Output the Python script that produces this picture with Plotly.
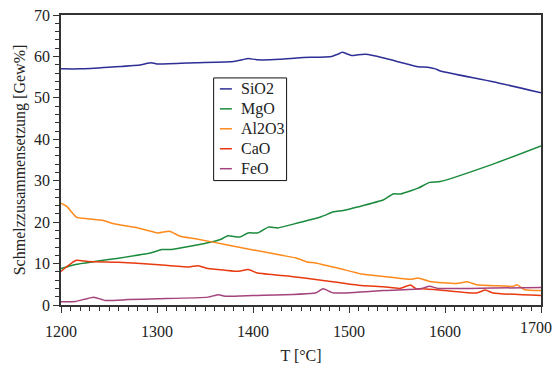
import plotly.graph_objects as go

# Melt composition vs temperature (wt%)
T_sio2 = [1200, 1220, 1250, 1282, 1289, 1294, 1300, 1340, 1380, 1389, 1395, 1404, 1428, 1449,
          1482, 1488, 1493, 1498, 1503, 1510, 1517, 1525, 1550, 1572, 1582, 1590, 1595, 1650, 1700]
sio2 = [57.0, 57.0, 57.4, 57.95, 58.3, 58.5, 58.2, 58.5, 58.8, 59.2, 59.5, 59.2, 59.3, 59.7,
        60.0, 60.5, 61.0, 60.6, 60.2, 60.4, 60.5, 60.2, 58.8, 57.5, 57.4, 57.0, 56.5, 53.9, 51.2]

T_mgo = [1200, 1215, 1235, 1260, 1294, 1305, 1315, 1330, 1360, 1366, 1374, 1386, 1395, 1405,
         1416, 1426, 1440, 1471, 1484, 1494, 1510, 1536, 1546, 1554, 1572, 1584, 1595, 1650, 1700]
mgo = [8.8, 9.8, 10.5, 11.3, 12.6, 13.4, 13.4, 14.0, 15.4, 15.8, 16.7, 16.4, 17.4, 17.4,
       18.8, 18.6, 19.4, 21.3, 22.5, 22.8, 23.7, 25.4, 26.8, 26.8, 28.2, 29.6, 29.8, 34.0, 38.4]

T_al2o3 = [1200, 1206, 1216, 1228, 1244, 1255, 1280, 1301, 1313, 1324, 1340, 1371, 1400, 1430,
           1444, 1458, 1464, 1490, 1513, 1536, 1564, 1572, 1584, 1612, 1623, 1633, 1660, 1671,
           1675, 1683, 1700]
al2o3 = [24.6, 23.8, 21.2, 20.8, 20.4, 19.6, 18.6, 17.4, 17.8, 16.6, 16.0, 14.6, 13.3, 12.0,
         11.4, 10.3, 10.2, 8.8, 7.5, 6.9, 6.2, 6.5, 5.7, 5.2, 5.6, 4.9, 4.6, 4.5,
         4.9, 3.7, 3.5]

T_cao = [1200, 1208, 1216, 1228, 1260, 1298, 1333, 1343, 1353, 1371, 1385, 1395, 1405, 1440,
         1471, 1513, 1536, 1553, 1564, 1570, 1577, 1600, 1633, 1642, 1650, 1700]
cao = [8.1, 9.6, 10.8, 10.5, 10.3, 9.8, 9.2, 9.5, 8.8, 8.4, 8.15, 8.55, 7.7, 6.9,
       6.0, 4.7, 4.4, 4.0, 4.8, 3.9, 3.9, 3.5, 2.9, 3.6, 2.9, 2.3]

T_feo = [1200, 1215, 1234, 1246, 1270, 1300, 1353, 1364, 1371, 1400, 1465, 1473, 1484, 1536,
         1574, 1584, 1593, 1650, 1700]
feo = [0.8, 0.85, 1.9, 1.1, 1.3, 1.5, 1.9, 2.5, 2.1, 2.3, 2.9, 3.9, 2.9, 3.5,
       3.9, 4.5, 4.0, 4.1, 4.2]

x_ticks = [1200, 1300, 1400, 1500, 1600, 1700]

series = [
    ("SiO2", T_sio2, sio2, "#2e2e96"),
    ("MgO", T_mgo, mgo, "#1b8a3c"),
    ("Al2O3", T_al2o3, al2o3, "#ff8a1c"),
    ("CaO", T_cao, cao, "#e83a10"),
    ("FeO", T_feo, feo, "#a4437c"),
]

FONT = "Liberation Serif"
TXT = "#222222"
AX = "#333333"

fig = go.Figure()
for name, x, y, color in series:
    fig.add_trace(go.Scatter(
        x=x, y=y, name=name, mode="lines", showlegend=False,
        line=dict(color=color, width=1.5, shape="spline", smoothing=0.5),
    ))

axis_common = dict(
    showgrid=False, zeroline=False, automargin=False,
    showline=True, linecolor=AX, linewidth=1.5, mirror=True,
    ticks="outside", ticklen=6, tickwidth=1.2, tickcolor=AX,
    tickfont=dict(family=FONT, size=16, color=TXT),
)

# the last x label sits flush with the right edge of the figure, so it is
# drawn as an annotation nudged inwards instead of a clipped tick label
fig.update_xaxes(
    range=[1200, 1700], tickvals=x_ticks,
    ticktext=[str(t) for t in x_ticks[:-1]] + [""],
    ticklabelstandoff=5,
    minor=dict(dtick=10, ticks="outside", ticklen=4, tickwidth=1, tickcolor=AX),
    title=dict(text="T [°C]", font=dict(family=FONT, size=16, color=TXT), standoff=11),
    **axis_common,
)
fig.add_annotation(xref="x", yref="paper", x=x_ticks[-1], y=0, xanchor="right", yanchor="top",
                   xshift=13, yshift=-12, text=str(x_ticks[-1]), showarrow=False,
                   font=dict(family=FONT, size=16, color=TXT))

fig.update_yaxes(
    range=[0, 70], dtick=10,
    minor=dict(dtick=2, ticks="outside", ticklen=4, tickwidth=1, tickcolor=AX),
    title=dict(text="Schmelzzusammensetzung [Gew%]", font=dict(family=FONT, size=16, color=TXT),
               standoff=4),
    **axis_common,
)

# Boxed legend placed inside the plot area (paper coordinates)
leg_x0, leg_x1 = 0.318, 0.470
leg_top, row_h = 0.783, 0.0688
fig.add_shape(type="rect", xref="paper", yref="paper",
              x0=leg_x0, x1=leg_x1, y0=leg_top - 5 * row_h - 0.01, y1=leg_top,
              line=dict(color="#111111", width=1), fillcolor="white", layer="above")
for i, (name, _, _, color) in enumerate(series):
    yc = leg_top - row_h * (i + 0.55)
    fig.add_shape(type="line", xref="paper", yref="paper",
                  x0=leg_x0 + 0.013, x1=leg_x0 + 0.038, y0=yc, y1=yc,
                  line=dict(color=color, width=1.5), layer="above")
    fig.add_annotation(xref="paper", yref="paper", x=leg_x0 + 0.052, y=yc,
                       text=name, showarrow=False, xanchor="left", yanchor="middle",
                       font=dict(family=FONT, size=16, color=TXT))

fig.update_layout(
    width=555, height=365,
    margin=dict(l=61, r=14, t=15, b=60),
    paper_bgcolor="white", plot_bgcolor="white",
    font=dict(family=FONT, size=16, color=TXT),
    showlegend=False,
)

fig.write_html("out.html")
